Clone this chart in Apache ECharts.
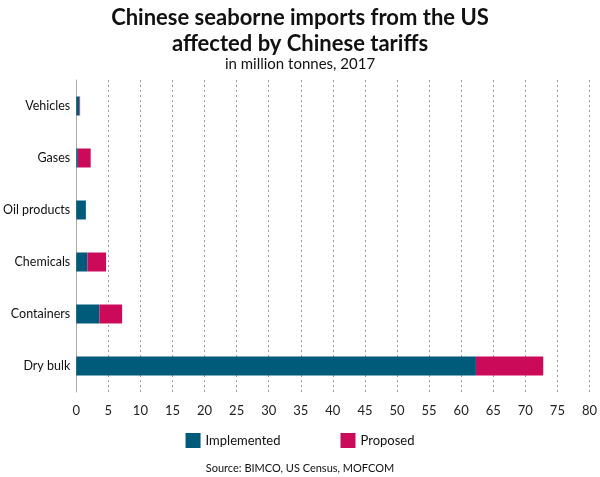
<!DOCTYPE html>
<html><head><meta charset="utf-8">
<script src="https://cdn.jsdelivr.net/npm/echarts@6/dist/echarts.min.js"></script>
<style>body{margin:0}#c{width:600px;height:477px}</style></head>
<body><div id="c"></div>
<script>
const categories = ['Dry bulk','Containers','Chemicals','Oil products','Gases','Vehicles'];
const implemented = [62.3, 3.6, 1.75, 1.5, 0.25, 0.5];
const proposed = [10.5, 3.55, 2.9, 0, 2.0, 0.1];
const xTicks = {min:0, max:80, interval:5};
const chart = echarts.init(document.getElementById('c'));
chart.setOption({
  textStyle:{fontFamily:'Lato'},
  title:{text:'Chinese seaborne imports from the US\naffected by Chinese tariffs',subtext:'in million tonnes, 2017',left:'center',top:0,itemGap:0,
    textStyle:{fontSize:22,fontWeight:'bold',color:'#111',lineHeight:26,fontFamily:'Lato'},
    subtextStyle:{fontSize:15,color:'#111',fontFamily:'Lato'}},
  legend:{bottom:24,itemWidth:15,itemHeight:15,itemGap:60,textStyle:{fontSize:13,color:'#111'},data:['Implemented','Proposed'],icon:'rect'},
  graphic:[{type:'text',left:'center',bottom:3,style:{text:'Source: BIMCO, US Census, MOFCOM',fontSize:11,fill:'#111',fontFamily:'Lato'}}],
  grid:{left:72,right:4,top:80,bottom:85,containLabel:false},
  xAxis:{type:'value',min:xTicks.min,max:xTicks.max,interval:xTicks.interval,
    axisLabel:{fontSize:13,color:'#222',margin:12},axisLine:{show:false},axisTick:{show:false},
    splitLine:{lineStyle:{type:[2,3],color:'#999'}}},
  yAxis:{type:'category',data:categories,axisTick:{show:false},axisLine:{lineStyle:{color:'#aaa'}},
    axisLabel:{fontSize:12.5,color:'#111',margin:6}},
  series:[
    {name:'Implemented',type:'bar',stack:'a',data:implemented,barWidth:19,itemStyle:{color:'#005a7a'}},
    {name:'Proposed',type:'bar',stack:'a',data:proposed,barWidth:19,itemStyle:{color:'#cc0a5a'}}
  ]
});
</script></body></html>
